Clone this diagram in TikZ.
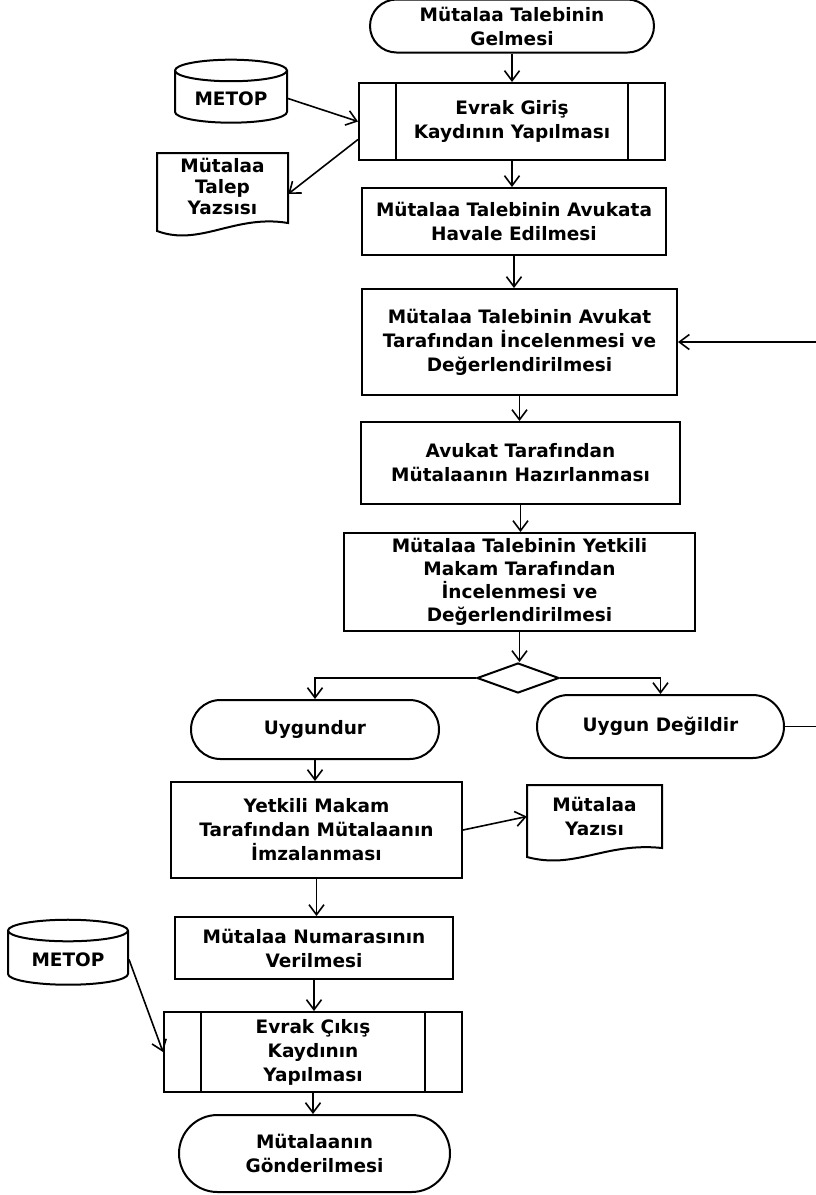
\documentclass[tikz,border=0pt]{standalone}
\usepackage{fontspec}
\setmainfont{DejaVu Sans}
\usepackage{tikz}
\usetikzlibrary{shapes, shapes.misc, shapes.geometric, positioning, calc, arrows.meta}

\tikzset{
	every node/.style={font=\bfseries\fontsize{18.5}{24}\selectfont, align=center, inner sep=2pt},
	islem/.style={draw, rectangle, line width=2pt},
	uc/.style={draw, rounded rectangle, line width=2pt},
	vt/.style={draw, cylinder, shape border rotate=90, aspect=0.28, line width=2pt},
	karar/.style={draw, diamond, line width=2pt},
	ok/.style={line width=1.6pt, -{Straight Barb[length=10pt,width=15pt,line width=1.6pt]}},
	hat/.style={line width=1.6pt}
}

\begin{document}
\begin{tikzpicture}[x=1pt, y=-1pt]
		\useasboundingbox (0,0) rectangle (816,1195);
		% ana akis
		\node[uc, minimum width=288pt, minimum height=53pt] (basla) at (512,26) {Mütalaa Talebinin\\Gelmesi};
		\node[islem, minimum width=306pt, minimum height=77pt] (giris) at (512,121.5) {Evrak Giriş\\Kaydının Yapılması};
		\draw[line width=2pt] ([xshift=38pt]giris.north west) -- ([xshift=38pt]giris.south west);
		\draw[line width=2pt] ([xshift=-38pt]giris.north east) -- ([xshift=-38pt]giris.south east);
		\node[vt, minimum width=112pt, minimum height=63pt] (metop1) at (231,98.5) {METOP};
		\node[minimum width=131pt, minimum height=66pt, inner sep=0pt, font=\bfseries\fontsize{18.5}{21}\selectfont] (talep) at (222.5,186) {Mütalaa\\Talep\\Yazsısı};
		\draw[line width=2pt] (157,231) -- (157,153) -- (288,153) -- (288,223) .. controls (235,214) and (200,247) .. cycle;
		\node[islem, minimum width=304pt, minimum height=67pt] (havale) at (514,221.5) {Mütalaa Talebinin Avukata\\Havale Edilmesi};
		\node[islem, minimum width=315pt, minimum height=106pt] (inceleme) at (519.5,342) {Mütalaa Talebinin Avukat\\Tarafından İncelenmesi ve\\Değerlendirilmesi};
		\node[islem, minimum width=319pt, minimum height=82pt] (hazirlik) at (520.5,463) {Avukat Tarafından\\Mütalaanın Hazırlanması};
		\node[islem, minimum width=351pt, minimum height=98pt, inner sep=0pt, font=\bfseries\fontsize{18.5}{23}\selectfont] (yetkili) at (519.5,582) {Mütalaa Talebinin Yetkili\\Makam Tarafından\\İncelenmesi ve\\Değerlendirilmesi};
		\node[karar, minimum width=82pt, minimum height=30pt, inner sep=0pt] (karar) at (518,678) {};
		\node[uc, minimum width=252pt, minimum height=59pt] (uygun) at (315,729.5) {Uygundur};
		\node[uc, minimum width=251pt, minimum height=63pt] (degil) at (660.5,726.5) {Uygun Değildir};
		\node[islem, minimum width=291pt, minimum height=96pt] (imza) at (316.5,830) {Yetkili Makam\\Tarafından Mütalaanın\\İmzalanması};
		\node[minimum width=135pt, minimum height=63pt] (yazi) at (594.5,816.5) {Mütalaa\\Yazısı};
		\draw[line width=2pt] (527,857) -- (527,785) -- (662,785) -- (662,848) .. controls (605,842) and (575,870) .. cycle;
		\node[islem, minimum width=278pt, minimum height=62pt] (numara) at (314,948) {Mütalaa Numarasının\\Verilmesi};
		\node[vt, minimum width=120pt, minimum height=65pt] (metop2) at (68,959.5) {METOP};
		\node[islem, minimum width=298pt, minimum height=80pt, inner sep=0pt] (cikis) at (313,1052) {Evrak Çıkış\\Kaydının\\Yapılması};
		\draw[line width=2pt] ([xshift=38pt]cikis.north west) -- ([xshift=38pt]cikis.south west);
		\draw[line width=2pt] ([xshift=-38pt]cikis.north east) -- ([xshift=-38pt]cikis.south east);
		\node[uc, minimum width=275pt, minimum height=77pt] (gonder) at (314.5,1153.5) {Mütalaanın\\Gönderilmesi};
		\coordinate (donusbas) at (816,726.5);
		\coordinate (donusson) at (816,342);
		% oklar
		\draw[ok] (basla.south) -- (basla.south |- giris.north);
		\draw[ok] (metop1.east) -- (giris.west);
		\draw[ok] ([yshift=-18pt]giris.west) -- ([yshift=-8pt]talep.east);
		\draw[ok] (giris.south) -- (giris.south |- havale.north);
		\draw[ok] (havale.south) -- (havale.south |- inceleme.north);
		\draw[ok] (donusson) -- (inceleme.east);
		\draw[ok] (inceleme.south) -- (inceleme.south |- hazirlik.north);
		\draw[ok] (hazirlik.south) -- (hazirlik.south |- yetkili.north);
		\draw[ok] (yetkili.south) -- (yetkili.south |- karar.north);
		\draw[ok] (karar.west) -| (uygun.north);
		\draw[ok] (karar.east) -| (degil.north);
		\draw[hat] (degil.east) -- (donusbas);
		\draw[ok] (uygun.south) -- (uygun.south |- imza.north);
		\draw[ok] (imza.east) -- (yazi.west);
		\draw[ok] (imza.south) -- (imza.south |- numara.north);
		\draw[ok] (metop2.east) -- (cikis.west);
		\draw[ok] (numara.south) -- (numara.south |- cikis.north);
		\draw[ok] (cikis.south) -- (cikis.south |- gonder.north);
		\end{tikzpicture}
\end{document}
